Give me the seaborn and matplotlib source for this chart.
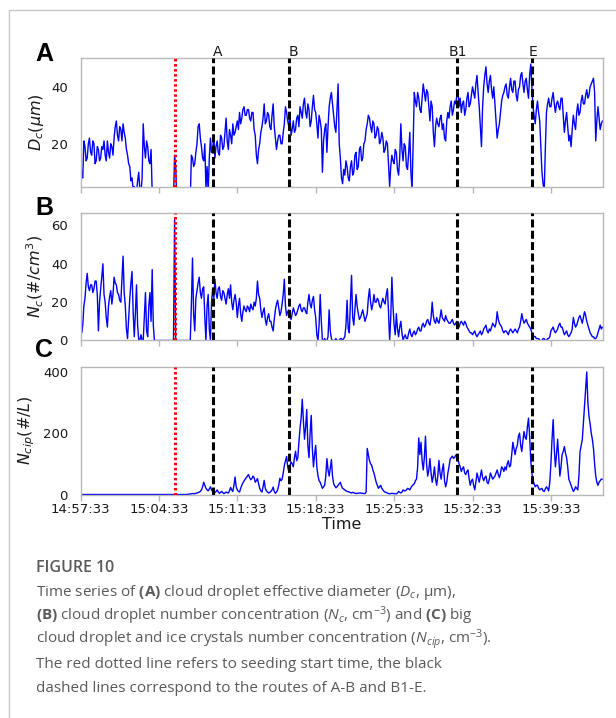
import numpy as np
import pandas as pd
import matplotlib
matplotlib.use("Agg")
import matplotlib.pyplot as plt
import matplotlib.transforms as mtransforms
from matplotlib.lines import Line2D
import seaborn as sns

# ---------------- data (minutes after 14:57:33, 6-s sampling) ----------------
TIME_MIN = np.round(np.arange(0, 46.61, 0.1), 1)

TICK_MIN = [0, 7, 14, 21, 28, 35, 42]
TICK_LABELS = ["14:57:33", "15:04:33", "15:11:33", "15:18:33",
               "15:25:33", "15:32:33", "15:39:33"]

SEED_TIME = 8.45                          # red dotted line
ROUTE_TIMES = [11.8, 18.62, 33.6, 40.3]   # black dashed lines
ROUTE_LABELS = ["A", "B", "B1", "E"]
ROUTE_LABEL_X = [11.83, 18.62, 32.9, 40.0]

D_C = [
    18, 9, 8, 21, 19, 14, 15, 20, 22, 17,      # 0
    16, 21, 20, 13, 14, 19, 18, 14, 15, 19,    # 1
    18, 21, 16, 14, 21, 17, 15, 20, 19, 16,    # 2
    22, 26, 28, 23, 21, 26, 25, 21, 27, 24,    # 3
    22, 18, 16, 13, 12, 7, 8, 4, 5, 3,         # 4
    3, 7, 10, 4, 3, 8, 27, 19, 15, 21,         # 5
    19, 14, 13, 18, 3, 0, 0, 0, 0, 0,          # 6
    0, 0, 0, 0, 0, 0, 0, 0, 0, 0,              # 7
    0, 0, 0, 0, 16, 12, 0, 0, 0, 0,            # 8
    0, 0, 0, 0, 0, 0, 0, 0, 0, 16,             # 9
    15, 12, 13, 17, 20, 26, 27, 22, 19, 15,    # 10
    14, 20, 4, 12, 3, 15, 22, 17, 18, 23,      # 11
    15, 19, 21, 17, 16, 23, 22, 18, 19, 24,    # 12
    29, 21, 18, 25, 23, 20, 27, 23, 24, 26,    # 13
    28, 25, 31, 27, 29, 32, 33, 30, 30, 32,    # 14
    32, 29, 28, 31, 31, 25, 23, 16, 13, 18,    # 15
    20, 24, 26, 29, 34, 27, 28, 31, 30, 26,    # 16
    25, 30, 34, 26, 22, 18, 21, 23, 23, 20,    # 17
    20, 24, 27, 33, 31, 28, 26, 30, 23, 25,    # 18
    28, 24, 25, 29, 30, 26, 33, 31, 29, 34,    # 19
    36, 31, 29, 34, 32, 26, 28, 33, 37, 32,    # 20
    31, 27, 22, 30, 28, 25, 10, 21, 25, 27,    # 21
    17, 26, 33, 36, 38, 34, 30, 26, 24, 32,    # 22
    41, 20, 15, 8, 6, 11, 9, 14, 12, 8,        # 23
    7, 12, 14, 9, 10, 16, 17, 11, 12, 18,      # 24
    19, 14, 15, 20, 21, 25, 27, 30, 29, 26,    # 25
    24, 28, 27, 22, 23, 26, 25, 20, 21, 24,    # 26
    22, 17, 18, 21, 20, 13, 5, 12, 16, 14,     # 27
    13, 18, 17, 11, 9, 15, 27, 18, 14, 20,     # 28
    19, 12, 11, 17, 24, 10, 4, 20, 38, 35,     # 29
    33, 38, 36, 32, 31, 36, 41, 38, 35, 39,    # 30
    38, 33, 28, 35, 33, 24, 19, 26, 29, 27,    # 31
    26, 29, 30, 25, 27, 22, 21, 28, 31, 29,    # 32
    33, 35, 30, 32, 35, 34, 37, 39, 33, 36,    # 33
    31, 34, 35, 30, 32, 36, 38, 33, 34, 37,    # 34
    40, 38, 36, 41, 44, 38, 33, 26, 19, 33,    # 35
    40, 44, 47, 41, 38, 42, 44, 39, 36, 40,    # 36
    34, 28, 22, 25, 27, 31, 35, 37, 38, 40,    # 37
    41, 37, 36, 40, 43, 39, 38, 42, 42, 37,    # 38
    35, 39, 40, 44, 45, 41, 38, 42, 43, 39,    # 39
    36, 44, 48, 40, 33, 30, 27, 32, 35, 31,    # 40
    28, 19, 10, 6, 3, 18, 31, 34, 36, 33,      # 41
    33, 36, 38, 34, 31, 34, 35, 33, 32, 36,    # 42
    36, 30, 24, 28, 31, 26, 21, 23, 19, 25,    # 43
    30, 27, 25, 31, 34, 30, 31, 35, 37, 34,    # 44
    34, 37, 39, 36, 37, 40, 41, 42, 43, 38,    # 45
    21, 28, 33, 29, 25, 27, 28,                # 46
]

N_C = [
    28, 4, 8, 18, 22, 30, 35, 28, 26, 29,      # 0
    29, 25, 27, 31, 31, 24, 5, 20, 27, 33,     # 1
    40, 24, 20, 12, 7, 18, 23, 26, 19, 24,     # 2
    33, 30, 29, 25, 24, 21, 20, 32, 44, 25,    # 3
    18, 6, 1, 12, 22, 30, 36, 15, 2, 14,       # 4
    29, 8, 0, 0, 3, 0, 0, 12, 25, 5,           # 5
    2, 18, 25, 10, 37, 8, 0, 0, 0, 0,          # 6
    0, 0, 0, 0, 0, 0, 0, 0, 0, 0,              # 7
    0, 0, 0, 0, 63, 0, 0, 0, 0, 0,             # 8
    0, 0, 0, 0, 0, 0, 0, 0, 0, 19,             # 9
    43, 14, 5, 22, 26, 30, 33, 25, 22, 27,     # 10
    28, 12, 0, 18, 24, 6, 0, 20, 27, 22,       # 11
    32, 25, 22, 27, 28, 23, 21, 26, 25, 22,    # 12
    19, 24, 27, 22, 29, 20, 16, 21, 24, 20,    # 13
    12, 18, 22, 14, 10, 15, 18, 16, 15, 18,    # 14
    17, 15, 19, 17, 16, 20, 18, 22, 31, 24,    # 15
    22, 16, 12, 15, 17, 11, 8, 12, 14, 10,     # 16
    10, 7, 5, 11, 16, 19, 21, 17, 13, 15,      # 17
    19, 24, 32, 18, 13, 15, 16, 12, 11, 14,    # 18
    17, 15, 13, 14, 16, 18, 19, 16, 15, 17,    # 19
    17, 15, 14, 20, 24, 19, 17, 21, 23, 16,    # 20
    12, 3, 0, 8, 24, 10, 0, 0, 1, 0,           # 21
    0, 2, 16, 5, 1, 0, 0, 0, 1, 0,             # 22
    0, 0, 1, 1, 0, 1, 2, 8, 21, 6,             # 23
    4, 20, 34, 12, 8, 16, 24, 18, 14, 11,      # 24
    12, 14, 16, 13, 10, 12, 14, 22, 27, 20,    # 25
    16, 19, 24, 20, 20, 22, 21, 18, 17, 20,    # 26
    22, 20, 19, 24, 27, 15, 0, 12, 33, 18,     # 27
    8, 3, 14, 6, 2, 7, 10, 4, 0, 2,            # 28
    3, 1, 1, 4, 6, 3, 2, 4, 5, 3,              # 29
    4, 6, 7, 5, 5, 8, 9, 7, 8, 10,             # 30
    11, 9, 8, 12, 20, 13, 10, 9, 12, 10,       # 31
    9, 12, 16, 12, 11, 10, 13, 11, 10, 9,      # 32
    9, 10, 11, 9, 8, 9, 10, 8, 7, 9,           # 33
    10, 9, 8, 10, 9, 7, 6, 5, 4, 4,            # 34
    3, 4, 5, 3, 2, 3, 4, 5, 3, 4,              # 35
    6, 7, 8, 5, 4, 6, 5, 7, 9, 8,              # 36
    7, 9, 15, 11, 9, 8, 7, 5, 4, 5,            # 37
    5, 4, 3, 5, 6, 5, 4, 5, 6, 5,              # 38
    4, 6, 7, 10, 14, 11, 9, 10, 11, 9,         # 39
    8, 7, 6, 4, 3, 2, 2, 1, 1, 1,              # 40
    0, 0, 0, 1, 1, 0, 0, 1, 1, 2,              # 41
    5, 6, 7, 5, 4, 5, 6, 8, 9, 7,              # 42
    7, 5, 3, 4, 5, 3, 2, 3, 4, 6,              # 43
    12, 9, 7, 8, 10, 12, 13, 11, 9, 12,        # 44
    15, 13, 10, 8, 6, 4, 3, 2, 2, 1,           # 45
    1, 2, 4, 6, 8, 6, 7,                       # 46
]

N_CIP = [
    0, 0, 0, 0, 0, 0, 0, 0, 0, 0,              # 0
    0, 0, 0, 0, 0, 0, 0, 0, 0, 0,              # 1
    0, 0, 0, 0, 0, 0, 0, 0, 0, 0,              # 2
    0, 0, 0, 0, 0, 0, 0, 0, 0, 0,              # 3
    0, 0, 0, 0, 0, 0, 0, 0, 0, 0,              # 4
    0, 0, 0, 0, 0, 0, 0, 0, 0, 0,              # 5
    0, 0, 0, 0, 0, 0, 0, 0, 0, 0,              # 6
    0, 0, 0, 0, 0, 0, 0, 0, 0, 0,              # 7
    0, 0, 0, 0, 0, 0, 0, 0, 0, 0,              # 8
    0, 0, 0, 0, 0, 0, 1, 1, 2, 2,              # 9
    3, 3, 2, 4, 5, 6, 8, 10, 15, 25,           # 10
    40, 30, 20, 15, 12, 18, 25, 15, 10, 8,     # 11
    6, 10, 15, 8, 4, 7, 10, 6, 3, 5,           # 12
    8, 6, 5, 12, 23, 15, 10, 30, 57, 25,       # 13
    15, 10, 8, 20, 30, 38, 44, 50, 55, 60,     # 14
    65, 55, 48, 52, 60, 55, 40, 45, 52, 35,    # 15
    20, 12, 8, 25, 46, 20, 12, 8, 5, 7,        # 16
    10, 15, 24, 10, 4, 8, 15, 30, 53, 45,      # 17
    50, 70, 95, 110, 124, 90, 75, 95, 106, 100,      # 18
    90, 120, 141, 110, 120, 170, 215, 250, 310, 240, # 19
    180, 220, 277, 160, 120, 200, 258, 150, 90, 130, # 20
    160, 90, 62, 45, 40, 30, 20, 25, 30, 60,         # 21
    117, 80, 60, 85, 114, 60, 35, 28, 22, 25,        # 22
    30, 35, 40, 28, 20, 18, 15, 12, 10, 9,     # 23
    8, 6, 5, 7, 6, 4, 3, 4, 4, 5,              # 24
    5, 4, 4, 3, 3, 8, 150, 130, 110, 100,      # 25
    95, 80, 70, 55, 40, 30, 20, 25, 30, 20,    # 26
    15, 10, 8, 6, 5, 3, 2, 3, 4, 3,            # 27
    3, 2, 2, 5, 10, 7, 5, 8, 15, 12,           # 28
    12, 15, 20, 18, 15, 22, 28, 32, 35, 45,    # 29
    50, 90, 184, 130, 170, 110, 80, 120, 190, 100,   # 30
    60, 80, 117, 70, 40, 60, 90, 50, 30, 60,         # 31
    111, 70, 50, 80, 100, 45, 25, 40, 70, 90,        # 32
    115, 120, 125, 118, 120, 128, 130, 115, 100, 90, # 33
    75, 85, 90, 70, 65, 75, 80, 50, 30, 45,    # 34
    50, 30, 15, 40, 70, 55, 40, 60, 80, 55,    # 35
    45, 55, 60, 40, 35, 50, 70, 60, 50, 55,    # 36
    60, 70, 80, 65, 55, 70, 90, 85, 75, 90,    # 37
    80, 100, 110, 90, 95, 130, 170, 150, 130, 150,   # 38
    160, 190, 200, 160, 140, 175, 205, 185, 180, 220,# 39
    249, 190, 110, 70, 45, 35, 25, 30, 30, 20,       # 40
    15, 18, 20, 12, 10, 18, 25, 20, 12, 40,          # 41
    100, 180, 244, 150, 90, 130, 180, 120, 60, 90,   # 42
    130, 140, 156, 135, 120, 90, 50, 40, 30, 20,     # 43
    10, 15, 25, 20, 15, 60, 140, 160, 178, 233,      # 44
    287, 340, 399, 300, 255, 230, 200, 180, 150, 100,# 45
    60, 40, 30, 40, 45, 50, 50,                      # 46
]

assert len(D_C) == len(TIME_MIN), len(D_C)
assert len(N_C) == len(TIME_MIN), len(N_C)
assert len(N_CIP) == len(TIME_MIN), len(N_CIP)

PANELS = ["A", "B", "C"]
Y_LABELS = [r"$D_c(\mu m)$", r"$N_c(\#/cm^3)$", r"$N_{cip}(\#/L)$"]
Y_LIMS = [(5, 50), (0, 66.6), (0, 416)]
Y_TICKS = [[20, 40], [0, 20, 40, 60], [0, 200, 400]]
SERIES = [D_C, N_C, N_CIP]

# ---------------- style ----------------
sns.set_theme(style="white")
plt.rcParams["font.family"] = ["DejaVu Sans"]
plt.rcParams["mathtext.fontset"] = "dejavusans"
plt.rcParams["mathtext.rm"] = "Open Sans"
plt.rcParams["mathtext.it"] = "Open Sans:italic"
plt.rcParams["mathtext.bf"] = "Open Sans:bold"

W, H = 616, 718
fig = plt.figure(figsize=(W / 100, H / 100), dpi=100)
fig.patch.set_facecolor("white")


def box(top, bottom, left=80.5, right=603.0):
    return [left / W, 1 - bottom / H, (right - left) / W, (bottom - top) / H]


tops_bottoms = [(58.3, 186.5), (212.8, 340.5), (366.8, 494.5)]
letter_base = [61, 215, 357]
spine_col = "#b8b8b8"

for i, (tb, vals) in enumerate(zip(tops_bottoms, SERIES)):
    ax = fig.add_axes(box(*tb))
    df = pd.DataFrame({"t": TIME_MIN, "v": vals})
    sns.lineplot(data=df, x="t", y="v", ax=ax, color="blue", lw=1.0,
                 estimator=None, sort=False)
    ax.axvline(SEED_TIME, color="red", ls=(0, (0.8, 0.85)), lw=2.2, zorder=5)
    for rt in ROUTE_TIMES:
        ax.axvline(rt, color="black", ls=(0, (2.6, 1.1)), lw=2.2, zorder=5)
    ax.set_xlim(0, 46.65)
    ax.set_ylim(*Y_LIMS[i])
    ax.set_yticks(Y_TICKS[i])
    ax.set_xticks(TICK_MIN)
    if i == 2:
        ax.set_xticklabels(TICK_LABELS)
        ax.set_xlabel("Time", fontsize=11.5, labelpad=1, color="#1a1a1a")
    else:
        ax.set_xticklabels([])
        ax.set_xlabel("")
    ax.set_ylabel(Y_LABELS[i], fontsize=11.5, labelpad=4, color="#1a1a1a")
    for s in ax.spines.values():
        s.set_color(spine_col)
        s.set_linewidth(1.0)
    ax.tick_params(axis="x", bottom=True, length=4, width=1, color=spine_col,
                   labelsize=9.5, pad=2, labelcolor="#1a1a1a")
    ax.tick_params(axis="y", left=False, labelsize=9.5, pad=3,
                   labelcolor="#1a1a1a")
    if i == 0:
        trans = mtransforms.blended_transform_factory(ax.transData, ax.transAxes)
        for lx, lab in zip(ROUTE_LABEL_X, ROUTE_LABELS):
            ax.text(lx, 1.0 + 2.5 / 128, lab, transform=trans, fontsize=10,
                    ha="left", va="baseline", color="#1a1a1a")
    fig.text(35 / W, 1 - letter_base[i] / H, PANELS[i], fontsize=18,
             fontweight="bold", family="Liberation Sans", va="baseline",
             color="black")

# ---------------- frame & caption ----------------
fig.add_artist(Line2D([9 / W, 1], [1 - 10 / H, 1 - 10 / H],
                      transform=fig.transFigure, color="#c8c8c8", lw=1))
fig.add_artist(Line2D([9 / W, 9 / W], [0, 1 - 10 / H],
                      transform=fig.transFigure, color="#c8c8c8", lw=1))

cap_col = "#5a5a5a"
fig.text(36 / W, 1 - 572 / H, "FIGURE 10", family="Open Sans",
         fontweight="semibold", fontsize=11.5, color=cap_col, va="baseline")

CAPTION_LINES = [
    r"Time series of $\mathbf{(A)}$ cloud droplet effective diameter ($D_c$, μm),",
    r"$\mathbf{(B)}$ cloud droplet number concentration ($N_c$, cm$^{-3}$) and $\mathbf{(C)}$ big",
    r"cloud droplet and ice crystals number concentration ($N_{cip}$, cm$^{-3}$).",
    "The red dotted line refers to seeding start time, the black",
    "dashed lines correspond to the routes of A-B and B1-E.",
]
cap_base = [596, 620, 644, 668, 692]
for line, yb in zip(CAPTION_LINES, cap_base):
    fig.text(36 / W, 1 - yb / H, line, family="Open Sans", fontsize=11,
             color=cap_col, va="baseline", math_fontfamily="custom")

fig.savefig("out.png", dpi=100, facecolor="white")
